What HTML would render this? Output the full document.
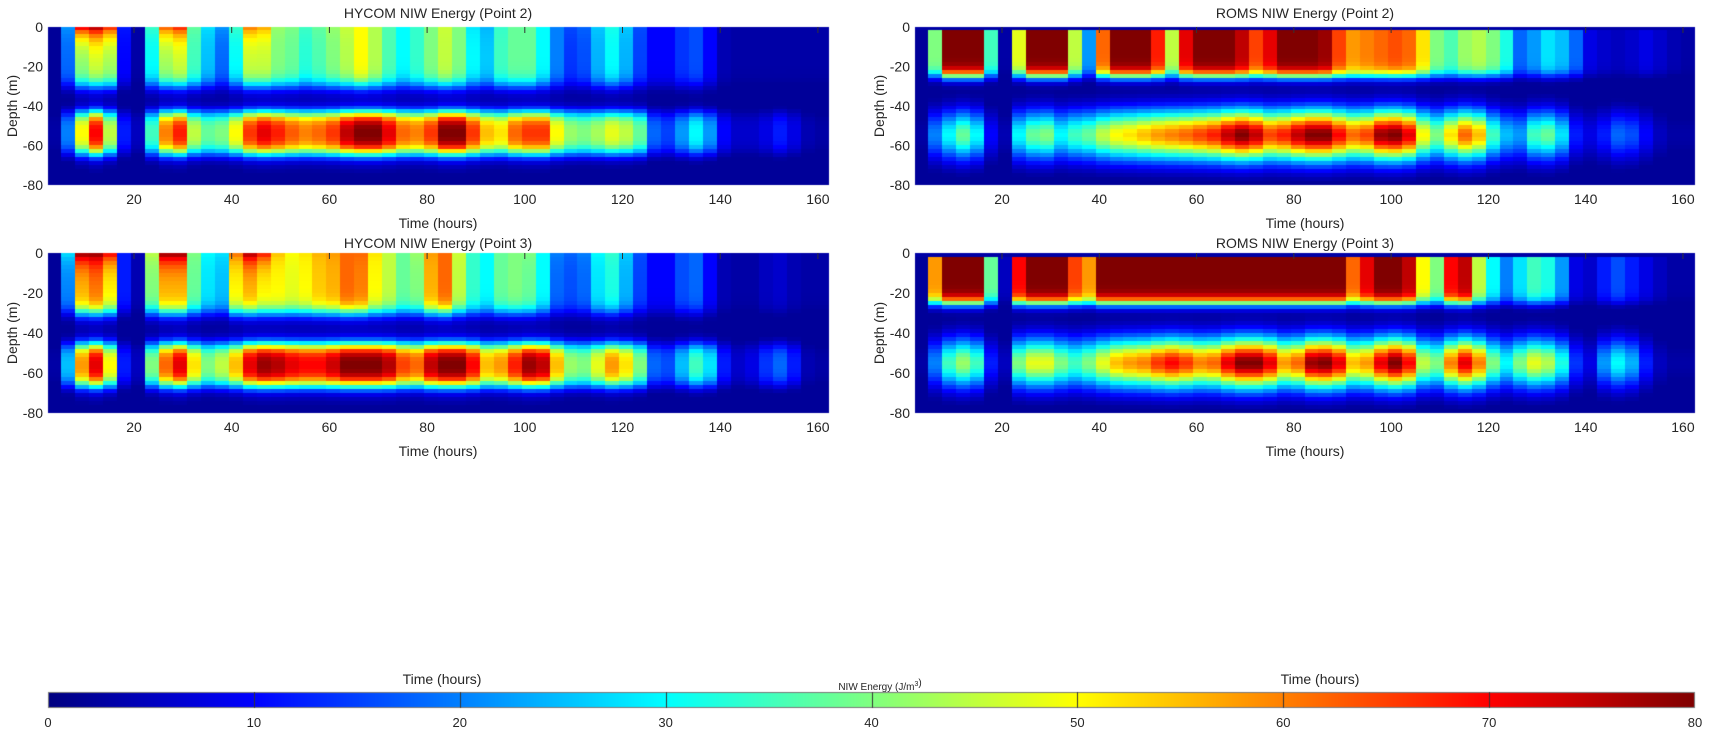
<!DOCTYPE html>
<html><head><meta charset="utf-8">
<style>
html,body{margin:0;padding:0;background:#fff;}
#wrap{position:relative;width:1727px;height:731px;overflow:hidden;}
canvas,svg{position:absolute;left:0;top:0;}
text{font-family:"Liberation Sans",sans-serif;fill:#262626;}
</style></head><body>
<div id="wrap">
<canvas id="c" width="1727" height="731"></canvas>
<svg width="1727" height="731" xmlns="http://www.w3.org/2000/svg" id="s">
<g font-size="14" text-anchor="middle">
<text x="438" y="18">HYCOM NIW Energy (Point 2)</text>
<text x="1305" y="18">ROMS NIW Energy (Point 2)</text>
<text x="438" y="248">HYCOM NIW Energy (Point 3)</text>
<text x="1305" y="248">ROMS NIW Energy (Point 3)</text>
<text x="438" y="228">Time (hours)</text>
<text x="1305" y="228">Time (hours)</text>
<text x="438" y="456">Time (hours)</text>
<text x="1305" y="456">Time (hours)</text>
<text x="442" y="684">Time (hours)</text>
<text x="1320" y="684">Time (hours)</text>
<text transform="translate(17,106) rotate(-90)">Depth (m)</text>
<text transform="translate(17,333) rotate(-90)">Depth (m)</text>
<text transform="translate(884,106) rotate(-90)">Depth (m)</text>
<text transform="translate(884,333) rotate(-90)">Depth (m)</text>
</g>
<text x="880" y="690" font-size="10" text-anchor="middle">NIW Energy (J/m<tspan font-size="7" dy="-4">3</tspan>)</text>
<g id="ticks"></g>
</svg>
</div>
<script>
function jet(v){v=Math.max(0,Math.min(1,v));
function c(x){return Math.max(0,Math.min(1,x));}
var r=c(1.5-Math.abs(4*v-3)),g=c(1.5-Math.abs(4*v-2)),b=c(1.5-Math.abs(4*v-1));
return 'rgb('+Math.round(r*255)+','+Math.round(g*255)+','+Math.round(b*255)+')';}
var ctx=document.getElementById('c').getContext('2d');
function sig(x){return 1/(1+Math.exp(x));}
var H2t=[[2,2],[22,18],[75,40],[80,45],[70,42],[12,10],[3,3],[35,30],[65,42],[70,45],[38,35],[28,25],[22,18],[35,30],[62,45],[58,45],[42,40],[40,38],[35,33],[38,36],[42,40],[46,44],[50,50],[44,44],[36,36],[30,30],[34,34],[40,40],[46,45],[40,40],[28,30],[24,26],[34,35],[38,38],[38,38],[30,30],[20,20],[16,14],[18,16],[26,24],[32,30],[26,24],[16,15],[10,10],[10,10],[14,14],[16,16],[10,10],[4,4],[3,3],[3,3],[3,3],[3,3],[3,3],[3,3],[3,3]];
var H2b=[3,20,50,70,45,12,5,35,60,68,45,38,40,50,66,72,68,63,60,62,66,75,80,80,72,62,60,66,80,80,66,55,52,62,66,66,50,42,40,43,48,45,38,18,15,22,30,22,10,6,6,8,12,8,4,3];
var H3t=[[2,2],[28,20],[80,55],[80,60],[72,50],[12,12],[4,4],[45,40],[80,55],[80,55],[40,38],[30,28],[28,25],[62,50],[78,55],[70,50],[55,50],[50,48],[52,50],[56,54],[58,56],[62,62],[62,60],[52,50],[45,45],[38,38],[42,40],[58,56],[62,62],[46,45],[34,34],[30,30],[38,38],[40,40],[40,38],[30,30],[20,18],[18,16],[20,18],[30,28],[34,32],[26,24],[16,15],[10,10],[10,10],[16,16],[18,18],[10,10],[4,4],[3,3],[3,3],[5,5],[6,6],[4,4],[3,3],[3,3]];
var H3b=[3,25,58,72,50,12,5,40,62,72,52,40,45,55,72,78,76,72,70,70,74,80,80,80,76,65,62,75,80,80,70,55,58,68,78,75,55,42,40,48,58,52,40,18,16,25,35,28,12,6,8,14,18,12,4,3];
var R2t=[2,40,80,80,80,35,3,48,80,80,80,45,22,62,80,80,80,68,45,72,80,80,80,75,65,72,80,80,80,78,65,58,60,62,64,62,52,40,36,42,44,40,32,18,22,28,25,18,8,6,5,6,8,6,4,3];
var R2b=[3,20,30,38,30,10,4,30,38,40,30,35,38,45,50,52,55,58,60,62,65,68,75,80,75,65,68,75,80,80,70,62,65,78,80,72,50,40,52,62,55,35,25,22,35,38,28,12,8,12,18,16,10,5,3,3];
var R3t=[2,58,80,80,80,38,5,70,80,80,80,65,58,80,80,80,80,80,80,80,80,80,80,80,80,80,80,80,80,80,80,62,72,80,80,75,50,40,70,75,45,30,20,28,35,32,22,8,6,12,16,12,8,5,3,3];
var R3b=[3,20,35,42,35,12,5,40,48,48,40,35,40,48,55,58,60,66,70,66,60,62,72,80,80,72,58,62,78,80,72,55,58,72,80,70,45,40,60,72,60,40,30,40,48,44,32,14,8,22,30,24,12,5,3,3];
var NC=56,NR=40;
function hyc(top,bot,bc){return function(i,k){var d=1+2*k;var s=top[i][0],m=top[i][1];
var tv=(m+(s-m)*Math.exp(-d/6))*sig((d-30)/2.2);
var x=d-bc;var bv=bot[i]*(0.75*Math.exp(-Math.pow(x/11,4))+0.25*Math.exp(-Math.pow(x/14,2)));return Math.max(2,tv+bv);};}
function rom(top,bot){return function(i,k){var d=1+2*k;if(k==0)return 3;
var tv=top[i]*sig((d-25)/1.6);var bv=bot[i]*Math.exp(-Math.pow((d-55)/12.5,2));return Math.max(2,tv+bv);};}
function draw(x0,x1,y0,y1,f){var cw=(x1-x0)/NC,ch=(y1-y0)/NR;
for(var i=0;i<NC;i++)for(var k=0;k<NR;k++){ctx.fillStyle=jet(f(i,k)/80);
ctx.fillRect(Math.floor(x0+i*cw),Math.floor(y0+k*ch),Math.ceil(cw)+1,Math.ceil(ch)+1);}
ctx.clearRect(x1,y0-1,3,y1-y0+3);ctx.clearRect(x0-1,y1,x1-x0+5,3);}
draw(48,829,27,185,hyc(H2t,H2b,54));
draw(48,829,253,413,hyc(H3t,H3b,56));
draw(915,1695,27,185,rom(R2t,R2b));
draw(915,1695,253,413,rom(R3t,R3b));
var g=ctx.createLinearGradient(48,0,1695,0);
for(var j=0;j<=40;j++)g.addColorStop(j/40,jet(j/40));
ctx.fillStyle=g;ctx.fillRect(48,692,1647,16);
ctx.strokeStyle='#777';ctx.lineWidth=1;ctx.strokeRect(48.5,692.5,1646,15);
ctx.strokeStyle='#333';
for(var j=1;j<8;j++){var x=Math.round(48+j*1647/8)+.5;ctx.beginPath();ctx.moveTo(x,692);ctx.lineTo(x,708);ctx.stroke();}
var T=document.getElementById('ticks'),h='';
function axes(x0,x1,y0,y1,t20,ph){
for(var t=20;t<=160;t+=20){var x=t20+(t-20)*ph;h+='<text x="'+x+'" y="'+(y1+19)+'" font-size="14" text-anchor="middle">'+t+'</text>';
h+='<line x1="'+x+'" x2="'+x+'" y1="'+y0+'" y2="'+(y0+6)+'" stroke="#333" stroke-width="1"/>';}
for(var k=0;k<=4;k++){var y=y0+k*(y1-y0)/4;h+='<text x="'+(x0-5)+'" y="'+(y+5)+'" font-size="14" text-anchor="end">'+(k==0?'0':(-20*k))+'</text>';}}
axes(48,829,27,185,134,4.885);axes(48,829,253,413,134,4.885);
axes(915,1695,27,185,1002,4.864);axes(915,1695,253,413,1002,4.864);
for(var j=0;j<=8;j++){h+='<text x="'+(48+j*1647/8)+'" y="727" font-size="13" text-anchor="middle">'+(j*10)+'</text>';}
T.innerHTML=h;
</script>
</body></html>
